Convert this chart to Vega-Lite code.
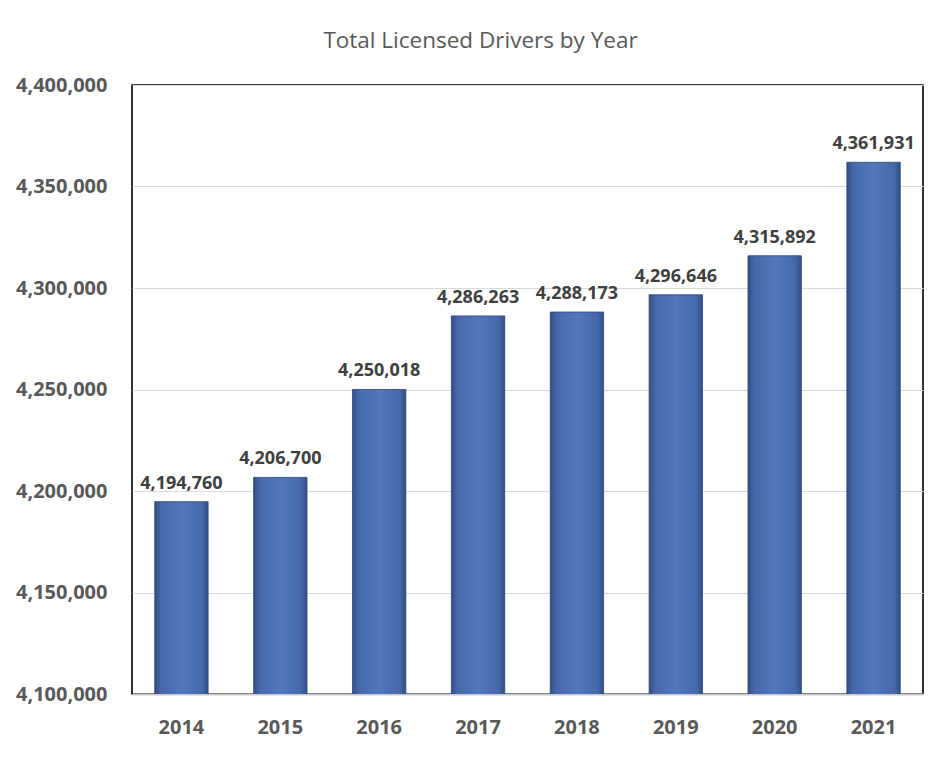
{
  "$schema": "https://vega.github.io/schema/vega-lite/v6.json",
  "autosize": {"type": "none"},
  "padding": {"left": 132, "top": 85, "right": 20, "bottom": 76},
  "width": 791,
  "height": 609,
  "background": "white",
  "title": {
    "text": "Total Licensed Drivers by Year",
    "font": "Open Sans",
    "fontSize": 22.5,
    "fontWeight": "normal",
    "color": "#595959",
    "anchor": "middle",
    "dx": -47,
    "offset": 23
  },
  "data": {
    "values": [
      {"year": "2014", "drivers": 4194760},
      {"year": "2015", "drivers": 4206700},
      {"year": "2016", "drivers": 4250018},
      {"year": "2017", "drivers": 4286263},
      {"year": "2018", "drivers": 4288173},
      {"year": "2019", "drivers": 4296646},
      {"year": "2020", "drivers": 4315892},
      {"year": "2021", "drivers": 4361931}
    ]
  },
  "encoding": {
    "x": {
      "field": "year",
      "type": "ordinal",
      "scale": {"paddingInner": 0.46, "paddingOuter": 0.23},
      "axis": {
        "title": null,
        "labelAngle": 0,
        "labelFont": "Open Sans",
        "labelFontSize": 20,
        "labelFontWeight": "bold",
        "labelColor": "#595959",
        "labelPadding": 23,
        "ticks": false,
        "tickSize": 0,
        "domainColor": "#c8c8c8",
        "domainWidth": 2,
        "grid": false
      }
    },
    "y": {
      "field": "drivers",
      "type": "quantitative",
      "scale": {"domain": [4100000, 4400000], "zero": false, "nice": false},
      "axis": {
        "title": null,
        "values": [4100000, 4150000, 4200000, 4250000, 4300000, 4350000, 4400000],
        "format": ",d",
        "labelFont": "Open Sans",
        "labelFontSize": 20,
        "labelFontWeight": "bold",
        "labelColor": "#595959",
        "labelPadding": 25,
        "ticks": false,
        "tickSize": 0,
        "domain": false,
        "grid": true,
        "gridColor": "#d9d9d9",
        "gridWidth": 1.2
      }
    }
  },
  "layer": [
    {
      "mark": {
        "type": "bar",
        "clip": true,
        "stroke": "#2c4677",
        "strokeWidth": 0.8,
        "color": {
          "gradient": "linear",
          "x1": 0, "y1": 0, "x2": 1, "y2": 0,
          "stops": [
            {"offset": 0, "color": "#324e84"},
            {"offset": 0.12, "color": "#4669ab"},
            {"offset": 0.5, "color": "#5177bd"},
            {"offset": 0.88, "color": "#4669ab"},
            {"offset": 1, "color": "#324e84"}
          ]
        }
      }
    },
    {
      "mark": {
        "type": "text",
        "dy": -13,
        "baseline": "alphabetic",
        "font": "Open Sans",
        "fontSize": 18,
        "fontWeight": "bold",
        "color": "#404040"
      },
      "encoding": {
        "text": {"field": "drivers", "type": "quantitative", "format": ",d"}
      }
    }
  ],
  "config": {
    "view": {"stroke": "#000000", "strokeWidth": 1.6}
  }
}
